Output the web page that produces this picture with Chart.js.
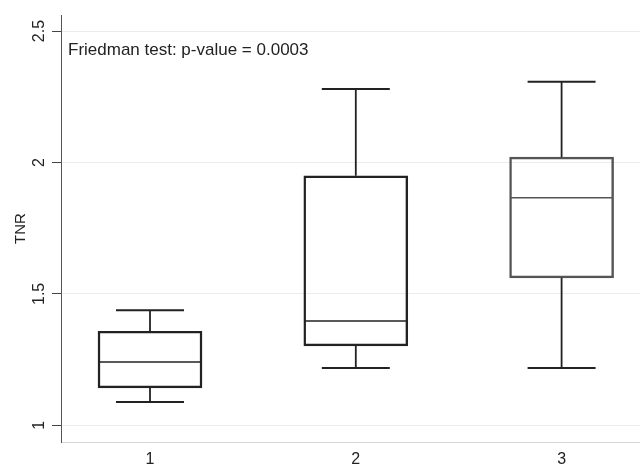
<!DOCTYPE html>
<html>
<head>
<meta charset="utf-8">
<script src="https://cdn.jsdelivr.net/npm/chart.js@4"></script>
<style>
  body { margin: 0; background: #fff; }
</style>
</head>
<body>
<canvas id="myChart" width="640" height="464"></canvas>
<script>
// box plot values
const groups = [1, 2, 3];
const lowWhisker = [1.089, 1.218, 1.218];
const q1 = [1.142, 1.302, 1.561];
const median = [1.241, 1.397, 1.866];
const q3 = [1.358, 1.949, 2.020];
const highWhisker = [1.438, 2.279, 2.307];
const yTicks = [1, 1.5, 2, 2.5];
const note = 'Friedman test: p-value = 0.0003';

Chart.defaults.font.family = '"Liberation Sans", Arial, sans-serif';
Chart.defaults.color = '#222';

const lineColor = ['#222', '#222', '#555'];

// whiskers, caps and median lines, drawn from the chart's scales
const boxParts = {
    id: 'boxParts',
    afterDatasetsDraw(chart) {
        const c = chart.ctx;
        const xs = chart.scales.x;
        const ys = chart.scales.y;
        c.save();
        groups.forEach(function (g, i) {
            const cx = xs.getPixelForValue(g);
            const half = 51;
            const cap = 34;
            c.strokeStyle = lineColor[i];
            // median
            c.lineWidth = 1.5;
            c.beginPath();
            c.moveTo(cx - half, ys.getPixelForValue(median[i]));
            c.lineTo(cx + half, ys.getPixelForValue(median[i]));
            c.stroke();
            // stems
            c.strokeStyle = '#222';
            c.lineWidth = 1.8;
            c.beginPath();
            c.moveTo(cx, ys.getPixelForValue(q3[i]));
            c.lineTo(cx, ys.getPixelForValue(highWhisker[i]));
            c.moveTo(cx, ys.getPixelForValue(q1[i]));
            c.lineTo(cx, ys.getPixelForValue(lowWhisker[i]));
            c.stroke();
            // caps
            c.lineWidth = 2;
            c.beginPath();
            c.moveTo(cx - cap, ys.getPixelForValue(highWhisker[i]));
            c.lineTo(cx + cap, ys.getPixelForValue(highWhisker[i]));
            c.moveTo(cx - cap, ys.getPixelForValue(lowWhisker[i]));
            c.lineTo(cx + cap, ys.getPixelForValue(lowWhisker[i]));
            c.stroke();
        });
        // test note
        c.fillStyle = '#222';
        c.font = '17px "Liberation Sans", Arial, sans-serif';
        c.textBaseline = 'alphabetic';
        c.fillText(note, chart.chartArea.left + 7, 55);
        c.restore();
    }
};

var ctx = document.getElementById('myChart').getContext('2d');

var myChart = new Chart(ctx, {
    type: 'bar',
    data: {
        datasets: [{
            label: 'TNR',
            data: groups.map(function (g, i) { return { x: g, y: [q1[i], q3[i]] }; }),
            backgroundColor: 'rgba(255,255,255,0)',
            borderColor: lineColor,
            borderWidth: 1.8,
            borderSkipped: false,
            barThickness: 104
        }]
    },
    options: {
        responsive: false,
        animation: false,
        layout: { padding: { top: 15, left: 0, right: 0, bottom: 0 } },
        plugins: {
            legend: { display: false },
            tooltip: { enabled: false }
        },
        scales: {
            x: {
                type: 'linear',
                offset: false,
                min: 0.5675,
                max: 3.381,
                afterBuildTicks: function (s) { s.ticks = groups.map(function (v) { return { value: v }; }); },
                afterFit: function (s) { s.height = 22; },
                grid: { display: false, drawTicks: false, tickLength: 0 },
                border: { display: true, color: '#d8d8d8', width: 1 },
                ticks: {
                    font: { size: 16 }, padding: 8, color: '#222',
                    callback: function (v) { return String(v); }
                }
            },
            y: {
                min: 0.9365,
                max: 2.561,
                afterBuildTicks: function (s) { s.ticks = yTicks.map(function (v) { return { value: v }; }); },
                afterFit: function (s) { s.width = 61; },
                grid: { color: '#ececec', lineWidth: 1, tickLength: 9, tickColor: '#444' },
                border: { display: true, color: '#555', width: 1 },
                ticks: {
                    font: { size: 16 },
                    color: '#222',
                    minRotation: 90,
                    maxRotation: 90,
                    crossAlign: 'center',
                    padding: 1,
                    callback: function (v) { return String(v); }
                },
                title: {
                    display: true,
                    text: 'TNR',
                    font: { size: 15 },
                    color: '#222',
                    padding: { top: 12, bottom: 0 }
                }
            }
        }
    },
    plugins: [boxParts]
});
</script>
</body>
</html>
